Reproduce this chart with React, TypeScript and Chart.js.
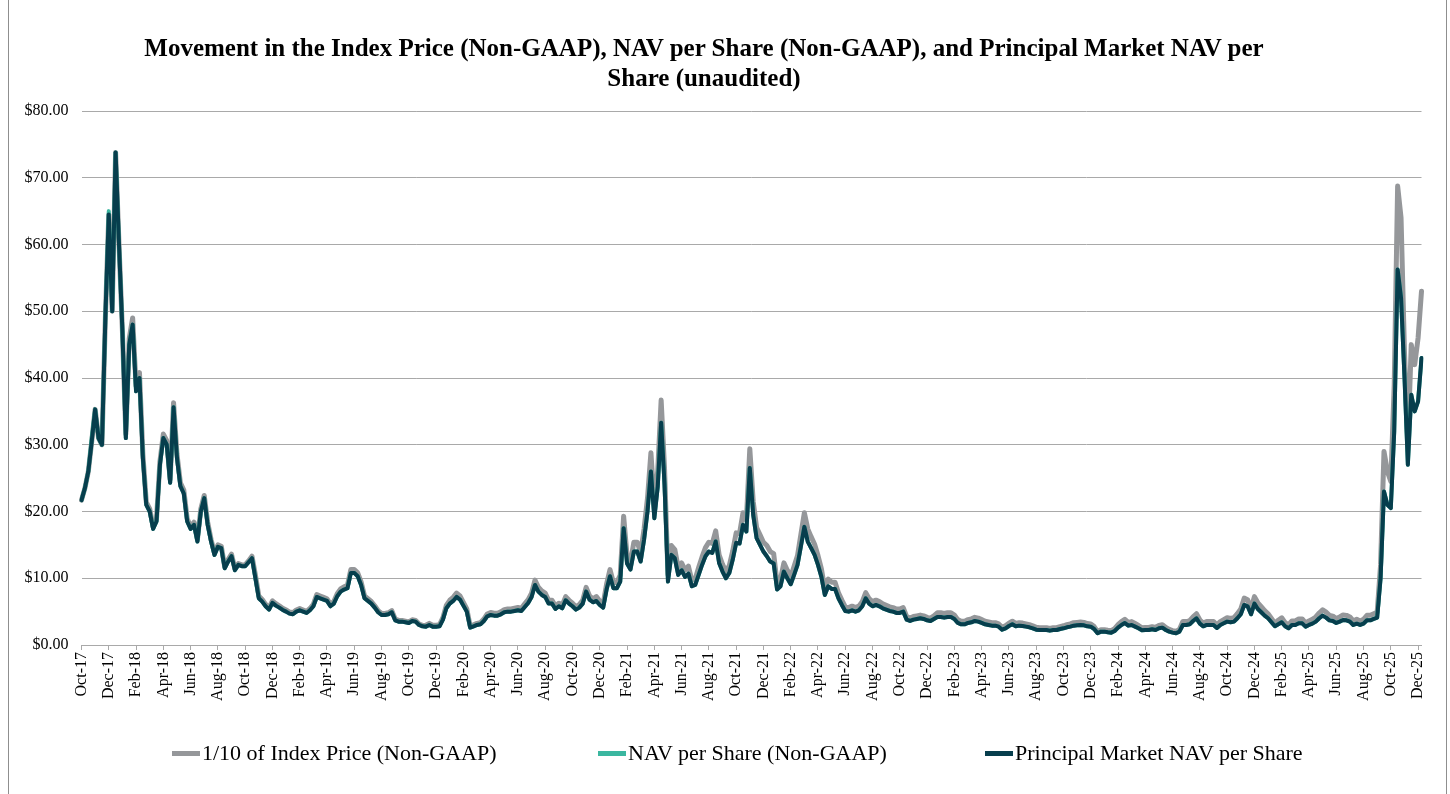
import { useEffect, useRef } from 'react';
import { Chart, registerables } from 'chart.js';

Chart.register(...registerables);

const TICK_LABELS = [
  'Oct-17', 'Dec-17',
  'Feb-18', 'Apr-18', 'Jun-18', 'Aug-18', 'Oct-18', 'Dec-18',
  'Feb-19', 'Apr-19', 'Jun-19', 'Aug-19', 'Oct-19', 'Dec-19',
  'Feb-20', 'Apr-20', 'Jun-20', 'Aug-20', 'Oct-20', 'Dec-20',
  'Feb-21', 'Apr-21', 'Jun-21', 'Aug-21', 'Oct-21', 'Dec-21',
  'Feb-22', 'Apr-22', 'Jun-22', 'Aug-22', 'Oct-22', 'Dec-22',
  'Feb-23', 'Apr-23', 'Jun-23', 'Aug-23', 'Oct-23', 'Dec-23',
  'Feb-24', 'Apr-24', 'Jun-24', 'Aug-24', 'Oct-24', 'Dec-24',
  'Feb-25', 'Apr-25', 'Jun-25', 'Aug-25', 'Oct-25', 'Dec-25',
];

const Y_TICKS = [0, 10, 20, 30, 40, 50, 60, 70, 80];

// weekly observations (4 per month), Oct-2017 .. Dec-2025
const PRINCIPAL_MARKET_NAV = [
  21.7, 23.5, 26, 30.5, 35.3, 31, 30, 49, 64.5, 50,
  73.8, 60, 47, 31, 45, 48, 38, 40, 28, 21,
  20, 17.4, 18.5, 27, 31, 30, 24.3, 35.6, 28, 23.8,
  22.7, 18.5, 17.4, 18, 15.5, 20, 22, 18, 15.5, 13.5,
  14.7, 14.5, 11.5, 12.5, 13.3, 11.2, 12, 11.8, 11.8, 12.4,
  13, 10, 7, 6.5, 5.8, 5.3, 6.3, 5.9, 5.6, 5.25,
  5, 4.7, 4.6, 5, 5.2, 5, 4.8, 5.2, 5.8, 7.2,
  7, 6.8, 6.6, 5.8, 6.2, 7.3, 8, 8.3, 8.5, 10.8,
  10.8, 10.3, 9, 7, 6.6, 6.2, 5.6, 4.9, 4.5, 4.5,
  4.6, 4.9, 3.7, 3.5, 3.5, 3.4, 3.3, 3.6, 3.5, 3,
  2.8, 2.75, 3, 2.75, 2.75, 2.8, 3.8, 5.5, 6.2, 6.6,
  7.2, 6.8, 5.9, 5, 2.6, 2.8, 3, 3.1, 3.6, 4.3,
  4.5, 4.4, 4.4, 4.6, 4.9, 5, 5, 5.1, 5.2, 5.1,
  5.7, 6.3, 7.2, 9, 8, 7.5, 7.2, 6.2, 6.2, 5.4,
  5.8, 5.5, 6.7, 6.2, 5.8, 5.3, 5.6, 6.2, 8, 6.8,
  6.4, 6.6, 6, 5.6, 8.3, 10.3, 8.5, 8.5, 9.5, 17.5,
  12.2, 11.3, 14, 14, 12.5, 15.8, 20, 26, 19, 23.7,
  33.3, 24, 9.5, 13.5, 13, 10.5, 11.2, 10.2, 10.7, 8.8,
  9, 10.5, 12, 13.3, 14, 13.8, 15.5, 12.3, 11, 10,
  10.8, 12.8, 15.3, 15.2, 18, 17, 26.5, 19.5, 16, 15,
  14, 13.3, 12.5, 12.2, 8.3, 8.8, 11, 10, 9.1, 10.5,
  12, 14.8, 17.7, 15.5, 14.5, 13.5, 12, 10.2, 7.5, 8.8,
  8.4, 8.4, 7, 6, 5.1, 5, 5.2, 5, 5.2, 5.8,
  7, 6.2, 5.8, 6, 5.8, 5.5, 5.3, 5.1, 5, 4.8,
  4.8, 5, 3.8, 3.6, 3.8, 3.9, 4, 3.9, 3.7, 3.6,
  3.9, 4.2, 4.2, 4.1, 4.2, 4.2, 3.9, 3.3, 3.1, 3.1,
  3.3, 3.4, 3.6, 3.5, 3.3, 3.1, 3, 2.9, 2.9, 2.75,
  2.3, 2.5, 2.85, 3.1, 2.8, 2.9, 2.85, 2.75, 2.65, 2.5,
  2.3, 2.25, 2.25, 2.25, 2.15, 2.25, 2.25, 2.4, 2.5, 2.65,
  2.75, 2.9, 2.95, 3, 2.95, 2.8, 2.75, 2.4, 1.75, 2,
  2, 1.9, 1.85, 2.1, 2.6, 3, 3.3, 2.9, 3, 2.75,
  2.5, 2.2, 2.25, 2.25, 2.35, 2.25, 2.5, 2.6, 2.25, 2,
  1.85, 1.75, 2, 3, 3, 3.1, 3.6, 4, 3.2, 2.8,
  3, 3, 3, 2.55, 3, 3.25, 3.5, 3.4, 3.5, 4,
  4.6, 6, 5.8, 4.6, 6.2, 5.4, 4.9, 4.4, 4, 3.4,
  2.8, 3.1, 3.4, 2.8, 2.5, 3, 3, 3.25, 3.25, 2.75,
  3, 3.2, 3.5, 4, 4.4, 4.1, 3.7, 3.6, 3.3, 3.5,
  3.75, 3.7, 3.5, 3, 3.2, 3, 3.2, 3.7, 3.7, 3.9,
  4.1, 10, 23, 21, 20.5, 32, 56.25, 52, 40.25, 27,
  37.5, 35, 36.5, 43,
];

const NAV_PER_SHARE = [
  21.7, 23.5, 26, 31, 35.3, 31, 30, 49, 65, 50,
  73.8, 60, 47, 31, 45, 48, 38, 40, 28, 21,
  20, 17.4, 18.5, 27, 31, 30, 24.3, 35.6, 28, 23.8,
  22.7, 18.5, 17.4, 18, 15.5, 20, 22, 18, 15.5, 13.5,
  14.7, 14.5, 11.5, 12.5, 13.3, 11.2, 12, 11.8, 11.8, 12.4,
  13, 10, 7, 6.5, 5.8, 5.3, 6.3, 5.9, 5.6, 5.25,
  5, 4.7, 4.6, 5, 5.2, 5, 4.8, 5.2, 5.8, 7.2,
  7, 6.8, 6.6, 5.8, 6.2, 7.3, 8, 8.3, 8.5, 10.8,
  10.8, 10.3, 9, 7, 6.6, 6.2, 5.6, 4.9, 4.5, 4.5,
  4.6, 4.9, 3.7, 3.5, 3.5, 3.4, 3.3, 3.6, 3.5, 3,
  2.8, 2.75, 3, 2.75, 2.75, 2.8, 3.8, 5.5, 6.2, 6.6,
  7.2, 6.8, 5.9, 5, 2.6, 2.8, 3, 3.1, 3.6, 4.3,
  4.5, 4.4, 4.4, 4.6, 4.9, 5, 5, 5.1, 5.2, 5.1,
  5.7, 6.3, 7.2, 9, 8, 7.5, 7.2, 6.2, 6.2, 5.4,
  5.8, 5.5, 6.7, 6.2, 5.8, 5.3, 5.6, 6.2, 8, 6.8,
  6.4, 6.6, 6, 5.6, 8.3, 10.3, 8.5, 8.5, 9.5, 17.5,
  12.2, 11.3, 14, 14, 12.5, 15.8, 20, 26, 19, 23.7,
  33.3, 24, 9.5, 13.5, 13, 10.5, 11.2, 10.2, 10.7, 8.8,
  9, 10.5, 12, 13.3, 14, 13.8, 15.5, 12.3, 11, 10,
  10.8, 12.8, 15.3, 15.2, 18, 17, 26.5, 19.5, 16, 15,
  14, 13.3, 12.5, 12.2, 8.3, 8.8, 11, 10, 9.1, 10.5,
  12, 14.8, 17.7, 15.5, 14.5, 13.5, 12, 10.2, 7.5, 8.8,
  8.4, 8.4, 7, 6, 5.1, 5, 5.2, 5, 5.2, 5.8,
  7, 6.2, 5.8, 6, 5.8, 5.5, 5.3, 5.1, 5, 4.8,
  4.8, 5, 3.8, 3.6, 3.8, 3.9, 4, 3.9, 3.7, 3.6,
  3.9, 4.2, 4.2, 4.1, 4.2, 4.2, 3.9, 3.3, 3.1, 3.1,
  3.3, 3.4, 3.6, 3.5, 3.3, 3.1, 3, 2.9, 2.9, 2.75,
  2.3, 2.5, 2.85, 3.1, 2.8, 2.9, 2.85, 2.75, 2.65, 2.5,
  2.3, 2.25, 2.25, 2.25, 2.15, 2.25, 2.25, 2.4, 2.5, 2.65,
  2.75, 2.9, 2.95, 3, 2.95, 2.8, 2.75, 2.4, 1.75, 2,
  2, 1.9, 1.85, 2.1, 2.6, 3, 3.3, 2.9, 3, 2.75,
  2.5, 2.2, 2.25, 2.25, 2.35, 2.25, 2.5, 2.6, 2.25, 2,
  1.85, 1.75, 2, 3, 3, 3.1, 3.6, 4, 3.2, 2.8,
  3, 3, 3, 2.55, 3, 3.25, 3.5, 3.4, 3.5, 4,
  4.6, 6, 5.8, 4.6, 6.2, 5.4, 4.9, 4.4, 4, 3.4,
  2.8, 3.1, 3.4, 2.8, 2.5, 3, 3, 3.25, 3.25, 2.75,
  3, 3.2, 3.5, 4, 4.4, 4.1, 3.7, 3.6, 3.3, 3.5,
  3.75, 3.7, 3.5, 3, 3.2, 3, 3.2, 3.7, 3.7, 3.9,
  4.1, 10, 23, 21, 20.5, 32, 56.25, 52, 40.25, 27,
  37.5, 35, 36.5, 43,
];

const INDEX_PRICE_TENTH = [
  21.7, 23.5, 26, 30.5, 35.3, 31, 30, 49, 64.5, 50,
  73.8, 60, 47, 31.6, 45.9, 49, 38.8, 40.8, 28.6, 21.4,
  20.4, 17.7, 18.9, 27.5, 31.6, 30.6, 24.8, 36.3, 28.6, 24.3,
  23.2, 18.9, 17.7, 18.4, 15.8, 20.4, 22.4, 18.4, 15.8, 13.8,
  15, 14.8, 11.7, 12.8, 13.6, 11.4, 12.2, 12, 12, 12.6,
  13.3, 10.5, 7.35, 6.83, 6.09, 5.57, 6.62, 6.2, 5.88, 5.51,
  5.25, 4.94, 4.83, 5.25, 5.46, 5.25, 5.04, 5.46, 6.09, 7.56,
  7.35, 7.14, 6.93, 6.09, 6.51, 7.67, 8.4, 8.72, 8.93, 11.3,
  11.3, 10.8, 9.45, 7.35, 6.93, 6.51, 5.88, 5.15, 4.73, 4.73,
  4.83, 5.15, 3.89, 3.68, 3.68, 3.57, 3.47, 3.78, 3.68, 3.15,
  2.94, 2.97, 3.24, 2.97, 2.97, 3.02, 4.1, 5.94, 6.7, 7.13,
  7.78, 7.34, 6.37, 5.4, 2.81, 3.02, 3.24, 3.35, 3.89, 4.64,
  4.86, 4.75, 4.75, 4.97, 5.29, 5.4, 5.4, 5.51, 5.62, 5.51,
  6.16, 6.8, 7.78, 9.72, 8.64, 8.1, 7.78, 6.7, 6.7, 5.83,
  6.26, 5.94, 7.24, 6.7, 6.26, 5.72, 6.05, 6.7, 8.64, 7.34,
  6.91, 7.26, 6.6, 6.16, 9.13, 11.3, 9.35, 9.35, 10.5, 19.3,
  13.4, 12.4, 15.4, 15.4, 13.8, 17.4, 22, 28.8, 20.9, 26.1,
  36.7, 26.4, 10.5, 14.9, 14.3, 11.6, 12.3, 11.2, 11.8, 9.68,
  9.9, 11.6, 13.2, 14.6, 15.4, 15.2, 17.1, 13.5, 12.1, 11,
  11.9, 14.1, 16.8, 16.7, 19.8, 18.7, 29.4, 21.5, 17.6, 16.5,
  15.4, 14.9, 14, 13.7, 9.3, 9.86, 12.3, 11.2, 10.2, 11.8,
  13.4, 16.6, 19.8, 17.4, 16.2, 15.1, 13.4, 11.4, 8.4, 9.86,
  9.41, 9.41, 7.84, 6.72, 5.71, 5.6, 5.82, 5.6, 5.82, 6.5,
  7.84, 6.94, 6.5, 6.72, 6.5, 6.16, 5.94, 5.71, 5.6, 5.38,
  5.38, 5.6, 4.26, 4.03, 4.26, 4.37, 4.48, 4.37, 4.14, 4.03,
  4.37, 4.83, 4.83, 4.72, 4.83, 4.83, 4.49, 3.8, 3.57, 3.57,
  3.8, 3.91, 4.14, 4.03, 3.8, 3.57, 3.45, 3.34, 3.34, 3.16,
  2.65, 2.88, 3.28, 3.57, 3.22, 3.34, 3.28, 3.16, 3.05, 2.88,
  2.65, 2.59, 2.59, 2.59, 2.47, 2.59, 2.59, 2.76, 2.88, 3.05,
  3.16, 3.34, 3.39, 3.45, 3.39, 3.22, 3.16, 2.76, 2.01, 2.3,
  2.3, 2.22, 2.16, 2.46, 3.04, 3.51, 3.86, 3.39, 3.51, 3.22,
  2.93, 2.57, 2.63, 2.63, 2.75, 2.63, 2.93, 3.04, 2.63, 2.34,
  2.16, 2.05, 2.34, 3.51, 3.51, 3.63, 4.21, 4.68, 3.74, 3.28,
  3.51, 3.51, 3.51, 2.98, 3.51, 3.8, 4.1, 3.98, 4.1, 4.68,
  5.38, 7.02, 6.79, 5.38, 7.25, 6.32, 5.73, 5.15, 4.68, 3.98,
  3.28, 3.72, 4.08, 3.36, 3, 3.6, 3.6, 3.9, 3.9, 3.3,
  3.6, 3.84, 4.2, 4.8, 5.28, 4.92, 4.44, 4.32, 3.96, 4.2,
  4.5, 4.44, 4.2, 3.6, 3.84, 3.6, 3.84, 4.44, 4.44, 4.68,
  4.92, 12, 29, 26, 24.5, 39, 68.75, 64, 44, 30,
  45, 42, 46, 53,
];

const SERIES_NAMES = [
  '1/10 of Index Price (Non-GAAP)',
  'NAV per Share (Non-GAAP)',
  'Principal Market NAV per Share',
];

const TITLE_LINE_1 = 'Movement in the Index Price (Non-GAAP), NAV per Share (Non-GAAP), and Principal Market NAV per';
const TITLE_LINE_2 = 'Share (unaudited)';

const GRAY = '#95979a';
const TEAL = '#3bb7a0';
const DARK = '#073e4d';
const GRID = '#a9a9a9';
const FONT = "'Liberation Serif', 'Times New Roman', Times, serif";
const POINTS_PER_TICK = 8;

export default function App() {
  const ref = useRef<HTMLCanvasElement | null>(null);

  useEffect(() => {
    if (!ref.current) return;
    const labels = PRINCIPAL_MARKET_NAV.map((_, i) =>
      i % POINTS_PER_TICK === 0 ? TICK_LABELS[i / POINTS_PER_TICK] ?? '' : ''
    );
    const chart = new Chart(ref.current, {
      type: 'line',
      data: {
        labels,
        datasets: [
          {
            label: SERIES_NAMES[0],
            data: INDEX_PRICE_TENTH,
            borderColor: GRAY,
            backgroundColor: GRAY,
            borderWidth: 5,
            order: 3,
          },
          {
            label: SERIES_NAMES[1],
            data: NAV_PER_SHARE,
            borderColor: TEAL,
            backgroundColor: TEAL,
            borderWidth: 4,
            order: 2,
          },
          {
            label: SERIES_NAMES[2],
            data: PRINCIPAL_MARKET_NAV,
            borderColor: DARK,
            backgroundColor: DARK,
            borderWidth: 4,
            order: 1,
          },
        ],
      },
      options: {
        responsive: false,
        animation: false,
        devicePixelRatio: 1,
        layout: { padding: { left: 0, right: 28.5, top: 111, bottom: 0 } },
        elements: {
          point: { radius: 0, hoverRadius: 0 },
          line: { tension: 0, borderJoinStyle: 'round', borderCapStyle: 'round' },
        },
        plugins: {
          legend: { display: false },
          title: { display: false },
          tooltip: { enabled: false },
        },
        scales: {
          x: {
            type: 'category',
            offset: false,
            afterBuildTicks: (scale: any) => {
              scale.ticks = scale.ticks.filter((t: any) => t.value % POINTS_PER_TICK === 0);
            },
            afterFit: (scale: any) => {
              scale.height = 149;
            },
            grid: {
              display: true,
              drawOnChartArea: false,
              drawTicks: true,
              tickLength: 5,
              color: GRID,
            },
            border: { display: true, color: GRID, width: 1 },
            ticks: {
              autoSkip: false,
              maxRotation: 90,
              minRotation: 90,
              padding: 2,
              color: '#000',
              font: { family: FONT, size: 16 },
            },
          },
          y: {
            min: 0,
            max: 80,
            afterFit: (scale: any) => {
              scale.width = 81.5;
            },
            afterBuildTicks: (scale: any) => {
              scale.ticks = Y_TICKS.map((v) => ({ value: v }));
            },
            grid: { color: GRID, drawTicks: false, lineWidth: 1 },
            border: { display: false },
            ticks: {
              padding: 13,
              color: '#000',
              font: { family: FONT, size: 16 },
              callback: (v: any) => '$' + Number(v).toFixed(2),
            },
          },
        },
      },
    });
    return () => chart.destroy();
  }, []);

  const legendItems = [
    { name: SERIES_NAMES[0], color: GRAY, left: 172 },
    { name: SERIES_NAMES[1], color: TEAL, left: 598 },
    { name: SERIES_NAMES[2], color: DARK, left: 985 },
  ];

  return (
    <div>
      <div
        style={{
          position: 'fixed',
          left: 8,
          top: 0,
          width: 1439,
          height: 794,
          boxSizing: 'border-box',
          borderLeft: '1px solid #8f8f8f',
          borderRight: '1px solid #8f8f8f',
        }}
      />
      <canvas
        ref={ref}
        width={1450}
        height={794}
        style={{ position: 'fixed', left: 0, top: 0, width: 1450, height: 794 }}
      />
      <div
        style={{
          position: 'fixed',
          left: 0,
          top: 33,
          width: 1408,
          textAlign: 'center',
          fontFamily: FONT,
          fontWeight: 'bold',
          fontSize: 25,
          lineHeight: '30px',
          color: '#000',
        }}
      >
        {TITLE_LINE_1}
        <br />
        {TITLE_LINE_2}
      </div>
      {legendItems.map((it) => (
        <div
          key={it.name}
          style={{
            position: 'fixed',
            left: it.left,
            top: 741,
            height: 24,
            display: 'flex',
            alignItems: 'center',
            whiteSpace: 'nowrap',
            fontFamily: FONT,
            fontSize: 22,
            lineHeight: '24px',
            color: '#000',
          }}
        >
          <span
            style={{
              display: 'inline-block',
              width: 28,
              height: 5,
              background: it.color,
              marginRight: 2,
            }}
          />
          <span>{it.name}</span>
        </div>
      ))}
    </div>
  );
}
